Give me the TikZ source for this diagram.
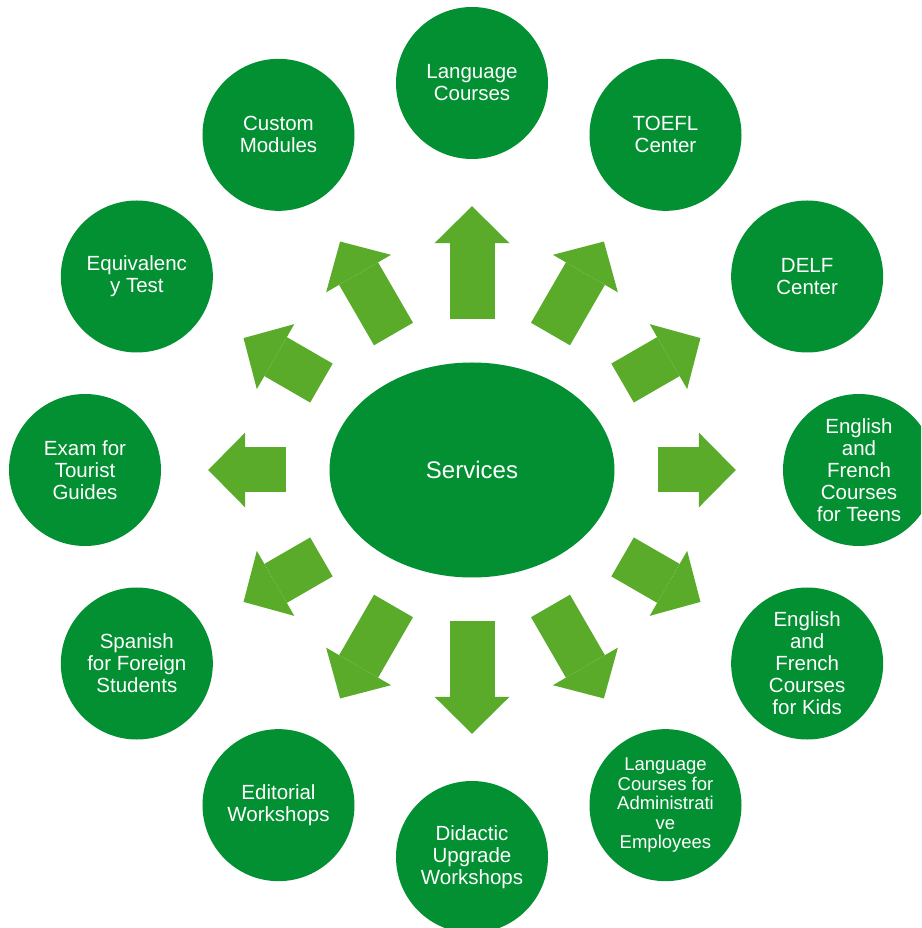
\documentclass[tikz,border=0pt]{standalone}
\usepackage{fontspec}
\setmainfont{Liberation Sans}
\usetikzlibrary{shapes.geometric, arrows.meta}

\definecolor{darkgreen}{RGB}{3,144,50}
\definecolor{lightgreen}{RGB}{91,171,42}

\tikzset{
  service/.style={circle, fill=darkgreen, text=white, minimum size=152pt, inner sep=0pt,
    align=center, font=\fontsize{20.5}{22}\selectfont},
  hub/.style={ellipse, fill=darkgreen, text=white, minimum width=285pt, minimum height=215pt,
    inner sep=0pt, font=\fontsize{24}{26}\selectfont},
  blockarrow/.style={draw=lightgreen, line width=45pt,
    -{Triangle[width=75pt, length=37pt, line width=0pt]}, shorten <=43pt, shorten >=47pt}
}

\begin{document}
\begin{tikzpicture}[x=1pt, y=1pt]
      \useasboundingbox (-472,-458) rectangle (449,470);
      \clip (-472,-458) rectangle (449,470);

      \node[hub] (srv) at (0,0) {Services};

      \node[service] (lang)   at (90:387)   {Language\\Courses};
      \node[service] (toefl)  at (60:387)   {TOEFL\\Center};
      \node[service] (delf)   at (30:387)   {DELF\\Center};
      \node[service] (teens)  at (0:387)    {English\\and\\French\\Courses\\for Teens};
      \node[service] (kids)   at (-30:387)  {English\\and\\French\\Courses\\for Kids};
      \node[service, font=\fontsize{18.5}{19.5}\selectfont] (admin) at (-60:387)
            {Language\\Courses for\\Administrati\\ve\\Employees};
      \node[service] (didact) at (-90:387)  {Didactic\\Upgrade\\Workshops};
      \node[service] (edit)   at (-120:387) {Editorial\\Workshops};
      \node[service] (span)   at (-150:387) {Spanish\\for Foreign\\Students};
      \node[service] (exam)   at (180:387)  {Exam for\\Tourist\\Guides};
      \node[service] (equiv)  at (150:387)  {Equivalenc\\y Test};
      \node[service] (custom) at (120:387)  {Custom\\Modules};

      \draw[blockarrow] (srv) -- (lang);
      \draw[blockarrow] (srv) -- (toefl);
      \draw[blockarrow] (srv) -- (delf);
      \draw[blockarrow] (srv) -- (teens);
      \draw[blockarrow] (srv) -- (kids);
      \draw[blockarrow] (srv) -- (admin);
      \draw[blockarrow] (srv) -- (didact);
      \draw[blockarrow] (srv) -- (edit);
      \draw[blockarrow] (srv) -- (span);
      \draw[blockarrow] (srv) -- (exam);
      \draw[blockarrow] (srv) -- (equiv);
      \draw[blockarrow] (srv) -- (custom);
\end{tikzpicture}
\end{document}
